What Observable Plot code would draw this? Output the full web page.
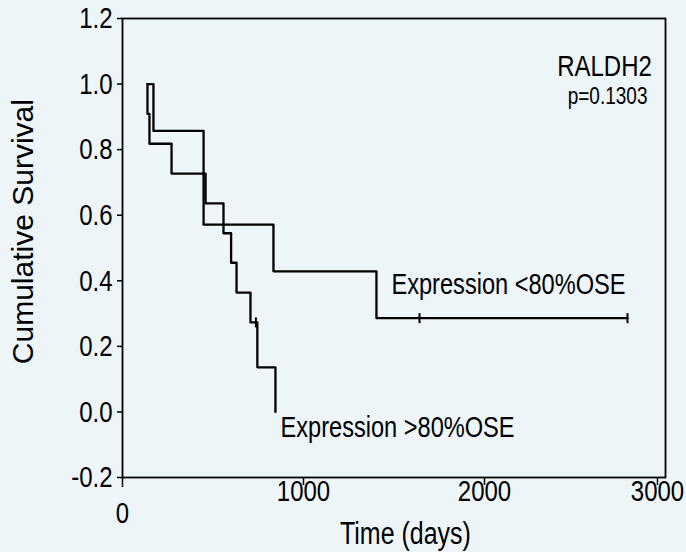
<!DOCTYPE html>
<html>
<head>
<meta charset="utf-8">
<script src="https://cdn.jsdelivr.net/npm/d3@7"></script>
<script src="https://cdn.jsdelivr.net/npm/@observablehq/plot@0.6"></script>
<style>
  html, body { margin: 0; padding: 0; background: #eef5f9; }
  #chart svg { display: block; background: #eef5f9; }
</style>
</head>
<body>
<div id="chart"></div>
<script>
// Group: Expression <80%OSE
const lowTimes = [138, 171, 448, 834, 1403, 2790];
const lowSurv  = [1.0, 0.857, 0.571, 0.429, 0.286, 0.286];
const lowCensorTimes = [1641, 2790];
const lowCensorSurv  = [0.286, 0.286];

// Group: Expression >80%OSE
const highTimes = [138, 138, 149, 271, 459, 558, 600, 630, 707, 745, 845];
const highSurv  = [1.0, 0.909, 0.818, 0.727, 0.636, 0.545, 0.455, 0.364, 0.273, 0.136, 0.0];
const highCensorTimes = [737];
const highCensorSurv  = [0.273];

const yTicks = [-0.2, 0.0, 0.2, 0.4, 0.6, 0.8, 1.0, 1.2];
const xTicks = [1000, 2000];
const xLastTick = [3000];
const xZeroTick = [0];

const seriesNames = ["Expression <80%OSE", "Expression >80%OSE"];
const titleText = "RALDH2";
const pText = "p=0.1303";
const xLabel = "Time (days)";
const yLabel = "Cumulative Survival";

const low = lowTimes.map((t, i) => ({t, s: lowSurv[i]}));
const high = highTimes.map((t, i) => ({t, s: highSurv[i]}));
const censors = [
  ...lowCensorTimes.map((t, i) => ({t, s: lowCensorSurv[i]})),
  ...highCensorTimes.map((t, i) => ({t, s: highCensorSurv[i]}))
];

const vtick = {
  draw(context, size) {
    const r = Math.sqrt(size / Math.PI);
    context.moveTo(0, -r);
    context.lineTo(0, r);
  }
};

const font = "'Liberation Sans', Arial, Helvetica, sans-serif";
const axisStyle = {label: null, stroke: "black", strokeWidth: 1.5, fontSize: 24, tickFormat: d => String(d)};

const chart = Plot.plot({
  width: 686,
  height: 552,
  marginLeft: 122,
  marginRight: 21,
  marginTop: 18,
  marginBottom: 75,
  style: {fontFamily: font, background: "#eef5f9", color: "black"},
  x: {domain: [0, 3000]},
  y: {domain: [-0.2, 1.2]},
  marks: [
    Plot.frame({stroke: "black", strokeWidth: 1.8}),
    Plot.axisY({...axisStyle, ticks: yTicks, tickFormat: d => d.toFixed(1), tickSize: 5, tickPadding: 5}),
    Plot.axisX({...axisStyle, ticks: xTicks, tickSize: 8, tickPadding: -4}),
    Plot.axisX({...axisStyle, ticks: xLastTick, tickSize: 8, tickPadding: -4, dx: -8}),
    Plot.axisX({...axisStyle, ticks: xZeroTick, tickSize: 10, tickPadding: 16}),
    Plot.line(low, {x: "t", y: "s", curve: "step-after", stroke: "black", strokeWidth: 2.3}),
    Plot.line(high, {x: "t", y: "s", curve: "step-after", stroke: "black", strokeWidth: 2.3}),
    Plot.dot(censors, {x: "t", y: "s", symbol: vtick, r: 5, stroke: "black", strokeWidth: 2, fill: "none"}),
    Plot.text([titleText], {x: 2663, y: 1.054, text: d => d, fontSize: 24, fill: "black"}),
    Plot.text([pText], {x: 2680, y: 0.962, text: d => d, fontSize: 19, fill: "black"}),
    Plot.text([seriesNames[0]], {x: 1486, y: 0.39, text: d => d, textAnchor: "start", fontSize: 23.6, fill: "black"}),
    Plot.text([seriesNames[1]], {x: 873, y: -0.047, text: d => d, textAnchor: "start", fontSize: 23.6, fill: "black"}),
    Plot.text([xLabel], {x: 1563, frameAnchor: "bottom", dy: 56, lineAnchor: "middle", text: d => d, fontSize: 25, fill: "black"}),
    Plot.text([yLabel], {y: 0.55, frameAnchor: "left", dx: -99, rotate: -90, textAnchor: "middle", lineAnchor: "middle", text: d => d, fontSize: 30, fill: "black"})
  ]
});

document.getElementById("chart").appendChild(chart);

// The reference figure's lettering is stretched vertically; stretch upright texts about their centres.
chart.querySelectorAll("text").forEach(t => {
  const tr = t.getAttribute("transform") || "";
  if (tr.includes("rotate")) return;
  const b = t.getBBox();
  const cy = b.y + b.height / 2;
  t.setAttribute("transform", `${tr} translate(0,${cy}) scale(1,1.25) translate(0,${-cy})`);
});
</script>
</body>
</html>
